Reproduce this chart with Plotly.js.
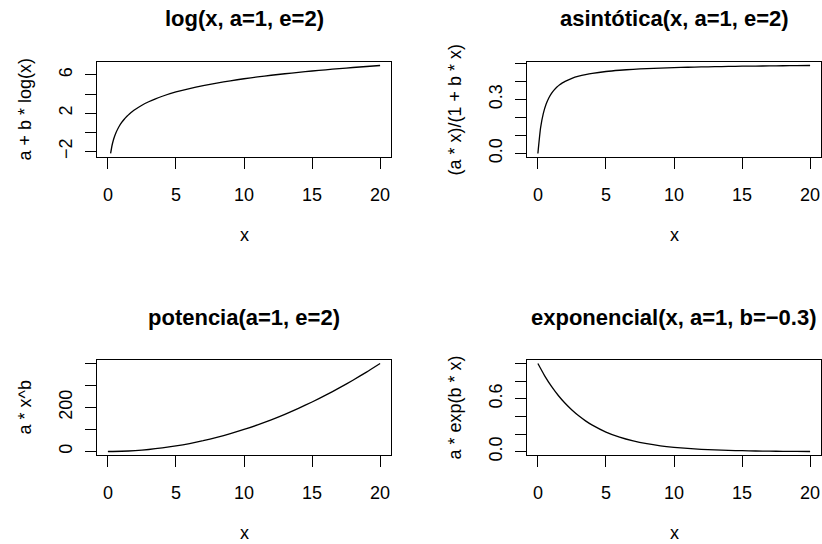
<!DOCTYPE html>
<html>
<head>
<meta charset="utf-8">
<script src="https://cdn.plot.ly/plotly-3.0.1.min.js"></script>
<style>
  html, body { margin: 0; padding: 0; background: #ffffff; }
  #chart { width: 822px; height: 544px; }
</style>
</head>
<body>
<div id="chart"></div>
<script>
// Curve values for the four model families
const logX = [0.2, 0.3, 0.4, 0.5, 0.6, 0.8, 1, 1.2, 1.4, 1.6, 1.8, 2, 2.5, 3, 3.5, 4, 5, 6, 7, 8, 9, 10, 11, 12, 13, 14, 15, 16, 17, 18, 19, 20];
const logY = [-2.219, -1.408, -0.833, -0.386, -0.022, 0.554, 1.000, 1.365, 1.673, 1.940, 2.176, 2.386, 2.833, 3.197, 3.506, 3.773, 4.219, 4.584, 4.892, 5.159, 5.394, 5.605, 5.796, 5.970, 6.130, 6.278, 6.416, 6.545, 6.666, 6.781, 6.889, 6.991];

const asinX = [0, 0.2, 0.4, 0.6, 0.8, 1, 1.2, 1.4, 1.6, 1.8, 2, 2.5, 3, 3.5, 4, 5, 6, 7, 8, 9, 10, 11, 12, 13, 14, 15, 16, 17, 18, 19, 20];
const asinY = [0, 0.1429, 0.2222, 0.2727, 0.3077, 0.3333, 0.3529, 0.3684, 0.3810, 0.3913, 0.4000, 0.4167, 0.4286, 0.4375, 0.4444, 0.4545, 0.4615, 0.4667, 0.4706, 0.4737, 0.4762, 0.4783, 0.4800, 0.4815, 0.4828, 0.4839, 0.4848, 0.4857, 0.4865, 0.4872, 0.4878];

const powX = [0, 1, 2, 3, 4, 5, 6, 7, 8, 9, 10, 11, 12, 13, 14, 15, 16, 17, 18, 19, 20];
const powY = [0, 1, 4, 9, 16, 25, 36, 49, 64, 81, 100, 121, 144, 169, 196, 225, 256, 289, 324, 361, 400];

const expX = [0, 0.5, 1, 1.5, 2, 2.5, 3, 3.5, 4, 5, 6, 7, 8, 9, 10, 11, 12, 13, 14, 15, 16, 17, 18, 19, 20];
const expY = [1, 0.8607, 0.7408, 0.6376, 0.5488, 0.4724, 0.4066, 0.3499, 0.3012, 0.2231, 0.1653, 0.1225, 0.0907, 0.0672, 0.0498, 0.0369, 0.0273, 0.0202, 0.0150, 0.0111, 0.0082, 0.0061, 0.0045, 0.0033, 0.0025];

// Tick values and labels
const xTickVals = [0, 5, 10, 15, 20];
const xTickText = ['0', '5', '10', '15', '20'];
const logTickVals = [-2, 0, 2, 4, 6];
const logTickText = ['\u22122', '', '2', '', '6'];
const asinTickVals = [0, 0.1, 0.2, 0.3, 0.4, 0.5];
const asinTickText = ['0.0', '', '', '0.3', '', ''];
const powTickVals = [0, 100, 200, 300, 400];
const powTickText = ['0', '', '200', '', ''];
const expTickVals = [0, 0.2, 0.4, 0.6, 0.8, 1.0];
const expTickText = ['0.0', '', '', '0.6', '', ''];

// Panel titles and axis titles
const panelTitles = ['log(x, a=1, e=2)', 'asint\u00f3tica(x, a=1, e=2)', 'potencia(a=1, e=2)', 'exponencial(x, a=1, b=\u22120.3)'];
const yTitles = ['a + b * log(x)', '(a * x)/(1 + b * x)', 'a * x^b', 'a * exp(b * x)'];
const xTitle = 'x';

// Layout helpers (pixel geometry of the 822x544 canvas)
const W = 822, H = 544;
const FONT = 'Liberation Sans, Arial, Helvetica, sans-serif';
const px = v => v / W;
const py = v => 1 - v / H;

// padded data range, as in base graphics
function padRange(lo, hi) {
  const d = (hi - lo) * 0.04;
  return [lo - d, hi + d];
}

const panels = [
  { x0: 97, x1: 391, y0: 62, y1: 157 },
  { x0: 527, x1: 821, y0: 62, y1: 157 },
  { x0: 97, x1: 391, y0: 360, y1: 455 },
  { x0: 527, x1: 821, y0: 360, y1: 455 }
];

const series = [
  { x: logX, y: logY, tv: logTickVals, tt: logTickText },
  { x: asinX, y: asinY, tv: asinTickVals, tt: asinTickText },
  { x: powX, y: powY, tv: powTickVals, tt: powTickText },
  { x: expX, y: expY, tv: expTickVals, tt: expTickText }
];

const data = [];
const layout = {
  width: W, height: H,
  margin: { l: 0, r: 0, t: 0, b: 0 },
  paper_bgcolor: '#ffffff',
  plot_bgcolor: '#ffffff',
  showlegend: false,
  font: { family: FONT, size: 18, color: '#000000' },
  annotations: []
};

function axisBase() {
  return {
    showline: true, mirror: true, linecolor: '#000000', linewidth: 1.3,
    ticks: 'outside', ticklen: 11, tickwidth: 1, tickcolor: '#000000',
    showgrid: false, zeroline: false, fixedrange: true,
    tickfont: { family: FONT, size: 18, color: '#000000' }
  };
}

series.forEach((s, i) => {
  const n = i + 1;
  const p = panels[i];
  const xa = 'xaxis' + (n === 1 ? '' : n);
  const ya = 'yaxis' + (n === 1 ? '' : n);
  data.push({
    type: 'scatter', mode: 'lines',
    x: s.x, y: s.y,
    xaxis: 'x' + (n === 1 ? '' : n), yaxis: 'y' + (n === 1 ? '' : n),
    line: { color: '#000000', width: 1.3, shape: 'spline', smoothing: 0.6 },
    hoverinfo: 'skip'
  });
  const yMin = Math.min(...s.y), yMax = Math.max(...s.y);
  layout[xa] = Object.assign(axisBase(), {
    domain: [px(p.x0), px(p.x1)],
    anchor: 'y' + (n === 1 ? '' : n),
    range: padRange(0, 20),
    tickvals: xTickVals, ticktext: xTickText,
    ticklabelstandoff: 10
  });
  layout[ya] = Object.assign(axisBase(), {
    domain: [py(p.y1), py(p.y0)],
    anchor: 'x' + (n === 1 ? '' : n),
    range: padRange(yMin, yMax),
    tickvals: s.tv, ticktext: s.tt,
    tickangle: -90,
    ticklabelstandoff: 6
  });
  const cx = (p.x0 + p.x1) / 2;
  // panel title
  layout.annotations.push({
    xref: 'paper', yref: 'paper', x: px(cx), y: py(p.y0 - 43),
    xanchor: 'center', yanchor: 'middle', showarrow: false,
    text: '<b>' + panelTitles[i] + '</b>',
    font: { family: FONT, size: 22, color: '#000000' }
  });
  // x axis title
  layout.annotations.push({
    xref: 'paper', yref: 'paper', x: px(cx), y: py(p.y1 + 78),
    xanchor: 'center', yanchor: 'middle', showarrow: false,
    text: xTitle,
    font: { family: FONT, size: 18, color: '#000000' }
  });
  // y axis title
  layout.annotations.push({
    xref: 'paper', yref: 'paper', x: px(p.x0 - 73), y: py((p.y0 + p.y1) / 2),
    xanchor: 'center', yanchor: 'middle', showarrow: false, textangle: -90,
    text: yTitles[i],
    font: { family: FONT, size: 18, color: '#000000' }
  });
});

Plotly.newPlot('chart', data, layout, { staticPlot: true, displayModeBar: false });
</script>
</body>
</html>
